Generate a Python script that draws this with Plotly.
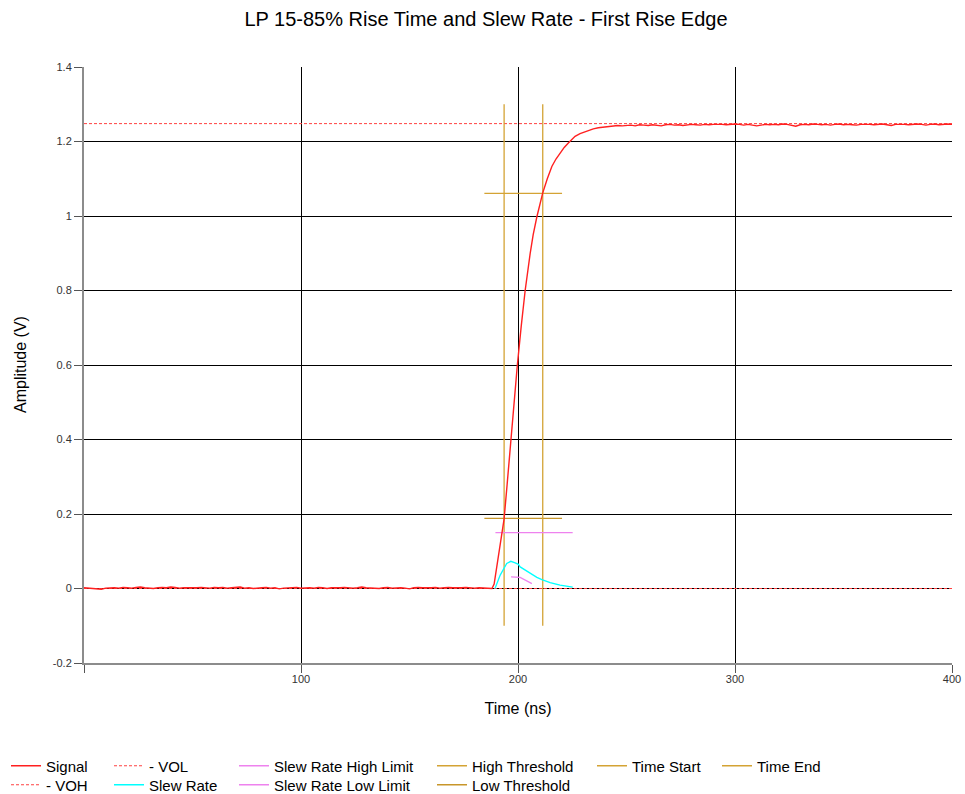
import plotly.graph_objects as go

# ---------------- data ----------------
# Signal: baseline portion (every 2 ns from 0 to 188 ns)
low_t = list(range(0, 190, 2))
low_v = [0.002, 0.001, 0.002, 0.000, -0.002, 0.001, 0.002, 0.002, 0.001, 0.003,
         0.002, 0.001, 0.003, 0.004, 0.002, 0.001, 0.000, 0.002, 0.003, 0.002,
         0.004, 0.003, 0.001, 0.002, 0.002, 0.000, 0.002, 0.003, 0.002, 0.001,
         0.003, 0.002, 0.003, 0.001, 0.002, 0.003, 0.004, 0.001, 0.002, 0.000,
         0.002, 0.002, 0.003, 0.001, 0.002, -0.001, 0.001, 0.002, 0.002, 0.003,
         0.001, 0.002, 0.002, 0.001, 0.003, 0.002, 0.000, 0.002, 0.001, 0.002,
         0.003, 0.002, 0.001, 0.002, 0.004, 0.002, 0.001, 0.002, 0.000, 0.002,
         0.003, 0.001, 0.002, 0.002, 0.001, -0.001, 0.002, 0.003, 0.002, 0.001,
         0.002, 0.003, 0.001, 0.002, 0.003, 0.002, 0.001, 0.002, 0.003, 0.002,
         0.001, 0.002, 0.002, 0.001, 0.000]

# Signal: rising edge
edge_t = [189.0, 190.0, 191.0, 192.0, 193.0, 193.6, 195.0, 196.7, 198.0, 199.7,
          201.5, 203.3, 205.6, 207.0, 208.7, 210.0, 211.4, 213.5, 215.6, 217.5,
          219.4, 221.3, 223.2, 224.8, 226.3, 228.6, 231.7, 234.7, 237.0]
edge_v = [0.012, 0.048, 0.088, 0.125, 0.165, 0.187, 0.280, 0.400, 0.490, 0.600,
          0.705, 0.800, 0.899, 0.950, 0.998, 1.032, 1.062, 1.100, 1.133, 1.153,
          1.169, 1.184, 1.196, 1.206, 1.214, 1.221, 1.228, 1.234, 1.237]

# Signal: settled high portion (every 2 ns from 240 to 400 ns)
high_t = list(range(240, 402, 2))
high_v = [1.239, 1.240, 1.241, 1.243, 1.242, 1.243, 1.244, 1.242, 1.245, 1.244,
          1.243, 1.245, 1.244, 1.242, 1.245, 1.246, 1.244, 1.245, 1.243, 1.245,
          1.246, 1.245, 1.244, 1.246, 1.245, 1.246, 1.247, 1.246, 1.245, 1.246,
          1.247, 1.246, 1.244, 1.246, 1.245, 1.242, 1.244, 1.246, 1.245, 1.246,
          1.245, 1.247, 1.246, 1.244, 1.241, 1.245, 1.246, 1.245, 1.247, 1.246,
          1.245, 1.246, 1.244, 1.246, 1.247, 1.245, 1.246, 1.245, 1.244, 1.246,
          1.247, 1.246, 1.245, 1.246, 1.247, 1.245, 1.243, 1.246, 1.247, 1.246,
          1.245, 1.246, 1.247, 1.246, 1.244, 1.246, 1.247, 1.245, 1.246, 1.247,
          1.246]

signal_t = low_t + edge_t + high_t
signal_v = low_v + edge_v + high_v

# Reference levels
vol_t = [0, 400]
vol_v = [0.0, 0.0]
voh_t = [0, 400]
voh_v = [1.248, 1.248]

# Slew rate
slew_t = [189.4, 191.8, 194.8, 196.7, 198.7, 200.2, 201.0, 203.3, 206.4, 208.7,
          211.0, 214.8, 219.4, 225.2]
slew_v = [0.000, 0.036, 0.067, 0.073, 0.069, 0.065, 0.058, 0.049, 0.038, 0.030,
          0.024, 0.016, 0.009, 0.0035]

# Slew rate limits
sr_high_t = [189.6, 225.2]
sr_high_v = [0.150, 0.150]
sr_low_t = [196.8, 201.0, 206.4]
sr_low_v = [0.031, 0.030, 0.013]

# Thresholds
high_thr_t = [184.5, 220.3]
high_thr_v = [1.061, 1.061]
low_thr_t = [184.5, 220.3]
low_thr_v = [0.188, 0.188]

# Time start / end markers
time_start_t = [193.6, 193.6]
time_start_v = [1.30, -0.10]
time_end_t = [211.4, 211.4]
time_end_v = [1.30, -0.10]

x_tickvals = [0, 100, 200, 300, 400]
x_ticktext = ["", "100", "200", "300", "400"]
y_tickvals = [-0.2, 0, 0.2, 0.4, 0.6, 0.8, 1.0, 1.2, 1.4]
y_ticktext = ["-0.2", "0", "0.2", "0.4", "0.6", "0.8", "1", "1.2", "1.4"]

# ---------------- figure ----------------
FONT = "Arial, Liberation Sans, sans-serif"
GOLD = "#D4A334"
VIOLET = "#EE82EE"

fig = go.Figure()

def add(x, y, name, color, legend, dash=None, width=1.2):
    fig.add_trace(go.Scatter(
        x=x, y=y, name=name, mode="lines",
        line=dict(color=color, width=width, dash=dash),
        legend=legend, hoverinfo="skip"))

add(vol_t, vol_v, "- VOL", "#FF4040", "legend3", dash="3px,2px", width=1)
add(voh_t, voh_v, "- VOH", "#FF4040", "legend2", dash="3px,2px", width=1)
add(high_thr_t, high_thr_v, "High Threshold", GOLD, "legend7", width=1.3)
add(low_thr_t, low_thr_v, "Low Threshold", "#C8962A", "legend8", width=1.3)
add(time_start_t, time_start_v, "Time Start", GOLD, "legend9", width=1.3)
add(time_end_t, time_end_v, "Time End", GOLD, "legend10", width=1.3)
add(sr_high_t, sr_high_v, "Slew Rate High Limit", VIOLET, "legend5", width=1.3)
add(sr_low_t, sr_low_v, "Slew Rate Low Limit", VIOLET, "legend6", width=1.3)
add(slew_t, slew_v, "Slew Rate", "#00FFFF", "legend4", width=1.3)
add(signal_t, signal_v, "Signal", "#FF2020", "legend", width=1.4)

# legend placement (container coordinates)
W, H = 965, 794
row1, row2 = 766, 785
legend_pos = {
    "legend": (6, row1), "legend2": (6, row2),
    "legend3": (109, row1), "legend4": (109, row2),
    "legend5": (234, row1), "legend6": (234, row2),
    "legend7": (432, row1), "legend8": (432, row2),
    "legend9": (592, row1), "legend10": (717, row1),
}
legend_layout = {}
for key, (px, py) in legend_pos.items():
    legend_layout[key] = dict(
        x=px / W, y=1 - py / H, xref="container", yref="container",
        xanchor="left", yanchor="middle", orientation="v",
        font=dict(family=FONT, size=15, color="#000000"),
        bgcolor="rgba(0,0,0,0)", borderwidth=0)

# plot area in pixels
L, R, T, B = 84, 13, 67, 131
PW = W - L - R

fig.update_layout(
    width=W, height=H,
    margin=dict(l=L, r=R, t=T, b=B, autoexpand=False),
    paper_bgcolor="white", plot_bgcolor="white",
    title=dict(text="LP 15-85% Rise Time and Slew Rate - First Rise Edge",
               x=486 / W, xref="container", xanchor="center",
               y=1 - 19 / H, yref="container", yanchor="middle",
               font=dict(family=FONT, size=20, color="#000000")),
    font=dict(family=FONT),
    showlegend=True,
    annotations=[dict(
        text="Amplitude (V)", textangle=-90, showarrow=False,
        xref="paper", yref="paper", x=(20 - L) / PW, y=0.5,
        xanchor="center", yanchor="middle",
        font=dict(family=FONT, size=16, color="#000000"))],
    **legend_layout,
)

fig.update_xaxes(
    range=[0, 400], tickvals=x_tickvals, ticktext=x_ticktext,
    showgrid=True, gridcolor="#000000", gridwidth=1,
    zeroline=False, showline=True, linecolor="#8C8C8C", linewidth=2,
    ticks="outside", ticklen=8, tickcolor="#555555", tickwidth=1,
    ticklabelstandoff=-3,
    tickfont=dict(family=FONT, size=11, color="#333333"),
    title=dict(text="Time (ns)", standoff=19,
               font=dict(family=FONT, size=16, color="#000000")),
)
fig.update_yaxes(
    range=[-0.2, 1.4], tickvals=y_tickvals, ticktext=y_ticktext,
    showgrid=True, gridcolor="#000000", gridwidth=1,
    zeroline=False, showline=True, linecolor="#8C8C8C", linewidth=2,
    ticks="outside", ticklen=8, tickcolor="#555555", tickwidth=1,
    tickfont=dict(family=FONT, size=11, color="#333333"),
)

fig.write_html("out.html")
